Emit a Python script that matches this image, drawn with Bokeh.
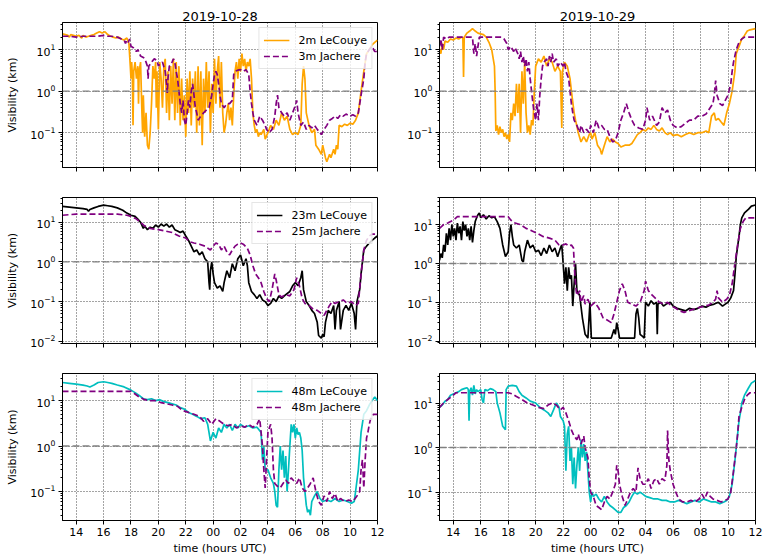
from bokeh.plotting import figure
from bokeh.layouts import gridplot
from bokeh.models import Range1d, FixedTicker, Span, Legend, LegendItem
from bokeh.embed import file_html
from bokeh.resources import INLINE

# ---------------- data (hours since 2019-10-2x 00 UTC; 24 = 00 next day) ----------------
x_ticks = [14, 16, 18, 20, 22, 24, 26, 28, 30, 32, 34, 36]
x_tick_labels = ["14", "16", "18", "20", "22", "00", "02", "04", "06", "08", "10", "12"]
titles = ["2019-10-28", "2019-10-29"]

# 2019-10-28, low level
lc2m_28 = [(13.0,24),(13.2,23),(13.4,22),(13.5,20),(13.6,23),(13.8,22),(14.0,21),(14.2,22),(14.4,19),(14.5,22),(14.7,20),(14.9,21),(15.1,22),(15.3,23),(15.5,25),(15.7,27),(15.9,25),(16.1,27),(16.3,23),(16.5,21),(16.7,20),(16.9,19),(17.1,20),(17.3,18),(17.5,17),(17.7,19),(17.85,14),(17.95,4),(18.0,2),(18.05,5),(18.1,2.5),(18.15,0.15),(18.2,3),(18.3,5),(18.4,2),(18.5,4),(18.55,0.5),(18.6,3),(18.7,5),(18.8,0.3),(18.85,0.1),(18.9,0.8),(19.0,0.08),(19.1,0.3),(19.2,0.05),(19.3,0.04),(19.4,0.1),(19.5,0.5),(19.6,4),(19.7,2),(19.8,5),(19.85,0.4),(19.9,3),(20.0,0.12),(20.1,5),(20.2,2),(20.3,0.4),(20.4,4),(20.5,6),(20.6,0.3),(20.7,3),(20.8,0.2),(20.9,4),(21.0,0.5),(21.1,6),(21.2,0.2),(21.3,5),(21.4,0.3),(21.5,4),(21.6,0.15),(21.7,2),(21.8,0.2),(21.9,0.8),(22.0,0.08),(22.1,2),(22.2,0.3),(22.3,3),(22.4,0.15),(22.5,2),(22.6,0.4),(22.7,3),(22.8,0.1),(22.9,4),(23.0,0.15),(23.1,3),(23.2,0.05),(23.3,2),(23.4,0.3),(23.5,5),(23.6,0.4),(23.7,3),(23.8,0.1),(23.9,1.5),(24.0,0.3),(24.1,6),(24.2,0.5),(24.3,3),(24.4,7),(24.5,0.4),(24.6,5),(24.7,0.3),(24.8,0.1),(24.9,0.15),(25.0,0.3),(25.1,0.5),(25.2,0.2),(25.3,0.4),(25.4,0.15),(25.5,0.8),(25.6,3),(25.7,5),(25.8,2),(25.9,6),(26.0,3),(26.1,8),(26.2,4),(26.3,6),(26.4,3),(26.5,5),(26.6,4),(26.7,6),(26.8,2),(26.9,0.3),(27.0,0.15),(27.1,0.1),(27.2,0.12),(27.3,0.08),(27.4,0.1),(27.5,0.09),(27.7,0.12),(27.8,0.07),(28.0,0.1),(28.2,0.15),(28.4,0.12),(28.6,0.2),(28.8,0.15),(29.0,0.3),(29.2,0.2),(29.4,0.25),(29.6,0.12),(29.8,0.09),(30.0,0.1),(30.2,0.09),(30.4,0.15),(30.5,1.5),(30.6,4),(30.7,2),(30.8,0.3),(31.0,0.15),(31.2,0.1),(31.4,0.12),(31.5,0.05),(31.7,0.04),(31.9,0.03),(32.0,0.05),(32.2,0.025),(32.3,0.02),(32.5,0.03),(32.6,0.025),(32.8,0.04),(32.9,0.03),(33.0,0.05),(33.1,0.04),(33.2,0.15),(33.4,0.14),(33.6,0.16),(33.8,0.15),(34.0,0.17),(34.2,0.16),(34.4,0.2),(34.6,0.3),(34.8,1),(35.0,3),(35.2,8),(35.4,10),(35.6,13),(35.8,15),(36.0,17)]
ja3m_28 = [(13.0,21),(13.5,21),(14.0,20),(14.5,21),(15.0,21),(15.5,21),(16.0,22),(16.3,21),(16.6,21),(17.0,20),(17.3,18),(17.5,17),(17.6,14),(17.7,17),(17.8,15),(17.9,18),(18.0,12),(18.2,11),(18.4,9),(18.5,10),(18.7,7),(18.9,6.5),(19.0,6),(19.1,5),(19.2,4),(19.25,2),(19.3,4),(19.5,5),(19.7,6),(19.9,5.5),(20.0,4),(20.1,4.5),(20.3,5),(20.5,3),(20.6,1.5),(20.65,0.9),(20.7,2),(20.8,4),(21.0,5),(21.1,6),(21.2,5),(21.3,3),(21.4,2),(21.5,1),(21.6,0.5),(21.7,0.3),(21.8,0.6),(21.9,0.2),(22.0,0.15),(22.1,0.3),(22.2,0.6),(22.3,0.4),(22.4,1),(22.5,1.5),(22.6,0.8),(22.7,0.4),(22.8,0.3),(22.9,0.2),(23.1,0.25),(23.3,0.3),(23.5,0.35),(23.7,0.4),(23.9,0.8),(24.0,1.5),(24.1,2.5),(24.2,3),(24.3,2.5),(24.4,1.5),(24.5,0.8),(24.6,0.5),(24.8,0.4),(25.0,0.5),(25.2,0.5),(25.4,0.6),(25.5,2.5),(25.6,3),(25.8,3.2),(26.0,3.3),(26.2,3),(26.4,3.3),(26.6,2.5),(26.7,1),(26.8,0.5),(26.9,0.3),(27.0,0.2),(27.2,0.15),(27.4,0.25),(27.6,0.2),(27.8,0.15),(27.9,0.12),(28.1,0.1),(28.3,0.12),(28.5,0.25),(28.6,0.5),(28.7,0.8),(28.8,0.4),(29.0,0.3),(29.2,0.25),(29.4,0.3),(29.6,0.2),(29.8,0.3),(30.0,0.45),(30.1,0.6),(30.2,0.3),(30.4,0.15),(30.6,0.18),(30.8,0.12),(31.0,0.15),(31.2,0.13),(31.4,0.15),(31.6,0.12),(31.8,0.1),(31.9,0.09),(32.1,0.12),(32.3,0.15),(32.5,0.2),(32.7,0.22),(32.9,0.25),(33.1,0.22),(33.3,0.27),(33.5,0.25),(33.7,0.28),(34.0,0.25),(34.2,0.27),(34.4,0.25),(34.6,0.3),(34.8,0.8),(35.0,2),(35.1,5),(35.2,8),(35.4,10),(35.6,12),(35.8,9),(36.0,9)]

# 2019-10-29, low level
lc2m_29 = [(13.0,10),(13.1,8),(13.2,14),(13.3,10),(13.4,16),(13.6,15),(13.8,18),(14.0,17),(14.2,19),(14.4,18),(14.6,20),(14.7,19),(14.75,2.2),(14.8,20),(15.0,25),(15.2,28),(15.4,32),(15.6,28),(15.8,25),(16.0,24),(16.2,23),(16.4,20),(16.6,15),(16.8,10),(17.0,4),(17.05,1),(17.1,0.11),(17.2,0.15),(17.3,0.09),(17.4,0.14),(17.5,0.1),(17.6,0.12),(17.7,0.08),(17.8,0.1),(17.9,0.07),(18.0,0.09),(18.1,0.06),(18.2,0.3),(18.3,0.2),(18.4,0.5),(18.5,0.25),(18.6,1.5),(18.7,0.3),(18.8,1.5),(18.9,0.1),(19.0,3),(19.1,0.5),(19.2,5),(19.3,0.3),(19.4,0.1),(19.5,0.15),(19.6,0.09),(19.7,0.2),(19.8,0.15),(19.9,1),(20.0,4),(20.2,6),(20.4,5),(20.6,7),(20.8,4),(21.0,6),(21.2,5),(21.4,3),(21.6,4),(21.8,3),(21.9,0.13),(21.95,3),(22.1,5),(22.3,4),(22.5,2),(22.6,1),(22.8,0.3),(22.9,0.2),(23.1,0.1),(23.3,0.06),(23.5,0.08),(23.7,0.06),(23.9,0.09),(24.0,0.1),(24.1,0.07),(24.3,0.1),(24.5,0.05),(24.7,0.04),(24.8,0.03),(25.0,0.05),(25.2,0.08),(25.4,0.06),(25.6,0.07),(25.8,0.06),(26.0,0.055),(26.2,0.045),(26.5,0.05),(26.8,0.05),(27.0,0.055),(27.2,0.07),(27.4,0.09),(27.6,0.1),(27.8,0.12),(28.0,0.11),(28.2,0.13),(28.4,0.12),(28.6,0.15),(28.8,0.12),(29.0,0.11),(29.2,0.13),(29.4,0.1),(29.6,0.09),(29.8,0.1),(30.0,0.085),(30.3,0.09),(30.6,0.08),(30.9,0.09),(31.2,0.1),(31.5,0.09),(31.8,0.1),(32.1,0.1),(32.4,0.11),(32.6,0.1),(32.8,0.25),(33.0,0.3),(33.1,0.2),(33.3,0.22),(33.5,0.18),(33.7,0.15),(33.9,0.3),(34.1,0.5),(34.3,1),(34.5,3),(34.6,8),(34.8,12),(35.0,18),(35.2,22),(35.4,28),(35.6,30),(36.0,32)]
ja3m_29 = [(13.0,12),(13.1,18),(13.2,10),(13.3,20),(13.5,18),(13.7,20),(14.0,20),(14.5,20),(15.0,20),(15.4,20),(15.5,8),(15.6,14),(15.7,7),(15.8,12),(15.9,20),(16.5,20),(17.0,20),(17.5,20),(17.7,18),(17.9,14),(18.0,10),(18.2,12),(18.4,9),(18.5,11),(18.7,8),(18.8,6),(18.9,9),(19.0,5),(19.1,7),(19.2,4),(19.3,6),(19.4,3),(19.5,5),(19.6,2),(19.7,1),(19.8,0.5),(19.9,0.3),(20.0,0.2),(20.1,0.5),(20.2,0.2),(20.3,0.8),(20.4,2),(20.5,4),(20.6,5),(20.8,6),(20.9,4),(21.0,7),(21.1,5),(21.2,8),(21.3,5),(21.5,6),(21.6,4),(21.8,5),(22.0,4),(22.1,5),(22.2,3),(22.4,2),(22.5,1),(22.6,0.5),(22.7,0.3),(22.8,0.2),(23.0,0.15),(23.2,0.1),(23.3,0.15),(23.5,0.1),(23.7,0.12),(23.9,0.1),(24.0,0.15),(24.2,0.1),(24.4,0.2),(24.6,0.13),(24.8,0.15),(25.0,0.12),(25.2,0.12),(25.4,0.08),(25.6,0.06),(25.8,0.065),(26.0,0.1),(26.2,0.2),(26.4,0.3),(26.6,0.5),(26.8,0.3),(27.0,0.2),(27.2,0.15),(27.5,0.13),(27.8,0.12),(28.0,0.2),(28.1,0.4),(28.3,0.2),(28.5,0.25),(28.8,0.15),(29.0,0.18),(29.2,0.4),(29.4,0.3),(29.6,0.35),(29.8,0.2),(30.0,0.15),(30.3,0.13),(30.6,0.14),(30.9,0.17),(31.2,0.2),(31.5,0.2),(31.8,0.25),(32.1,0.25),(32.4,0.28),(32.7,0.4),(32.9,0.5),(33.0,0.8),(33.1,1.8),(33.2,0.8),(33.4,0.5),(33.6,0.45),(33.8,0.6),(34.0,0.8),(34.2,1.5),(34.3,3),(34.4,5),(34.6,10),(34.8,15),(35.0,18),(35.2,20),(36.0,20)]

# 2019-10-28, mid level
lc23m_28 = [(13.0,25),(13.5,24),(14.0,23),(14.5,22),(14.8,21),(14.9,19),(15.0,21),(15.3,23),(15.6,25),(16.0,27),(16.3,26),(16.6,25),(17.0,23),(17.4,20),(17.7,17),(18.0,15),(18.3,14),(18.5,12),(18.7,10),(18.9,7),(19.0,8),(19.2,6.5),(19.4,7.5),(19.6,7),(19.8,8.5),(20.0,7.5),(20.2,9),(20.4,8),(20.6,9),(20.8,7.5),(21.0,8.5),(21.2,6.5),(21.4,6),(21.6,5.5),(21.8,6),(22.0,4.5),(22.2,3.5),(22.4,2.5),(22.6,1.8),(22.8,2),(23.0,1.5),(23.2,1.8),(23.4,1.2),(23.6,1),(23.7,0.3),(23.75,0.2),(23.8,0.6),(23.9,1),(24.0,0.5),(24.1,0.3),(24.3,0.22),(24.5,0.25),(24.7,0.18),(24.8,0.3),(25.0,0.6),(25.2,0.4),(25.4,0.9),(25.6,0.6),(25.8,1.2),(26.0,1.5),(26.2,0.8),(26.4,1.2),(26.5,0.8),(26.6,0.3),(26.8,0.18),(27.0,0.15),(27.2,0.12),(27.4,0.15),(27.6,0.11),(27.8,0.1),(28.0,0.08),(28.2,0.09),(28.4,0.12),(28.6,0.1),(28.8,0.14),(29.0,0.12),(29.3,0.15),(29.6,0.18),(29.8,0.25),(30.0,0.3),(30.2,0.25),(30.4,0.4),(30.5,0.6),(30.6,0.2),(30.8,0.1),(31.0,0.08),(31.2,0.06),(31.4,0.05),(31.6,0.03),(31.7,0.014),(31.9,0.012),(32.0,0.015),(32.1,0.013),(32.2,0.03),(32.4,0.06),(32.6,0.05),(32.8,0.08),(32.9,0.02),(33.0,0.06),(33.2,0.1),(33.3,0.02),(33.5,0.06),(33.7,0.08),(33.9,0.06),(34.1,0.09),(34.3,0.05),(34.4,0.02),(34.5,0.1),(34.7,0.2),(34.8,0.5),(34.9,1),(35.0,2),(35.2,2.5),(35.4,3),(35.6,3.5),(35.8,4),(36.0,4.5)]
ja25m_28 = [(13.0,15),(14.0,16),(15.0,16),(16.0,16),(17.0,16),(17.7,15),(18.0,14),(18.4,12),(18.7,10),(19.0,8),(19.4,7),(20.0,6.5),(20.5,6),(21.0,5.5),(21.5,4.5),(22.0,4),(22.3,3.2),(22.6,3),(23.0,2.8),(23.4,2.5),(23.8,2),(24.0,2.5),(24.2,3),(24.4,2.8),(24.6,2),(24.8,2.5),(25.0,1.8),(25.2,1.5),(25.4,2),(25.6,2.5),(25.8,2.8),(26.0,3),(26.2,2.8),(26.5,2.2),(26.7,1.5),(26.9,0.8),(27.1,0.5),(27.3,0.4),(27.5,0.3),(27.7,0.18),(27.9,0.12),(28.1,0.1),(28.3,0.2),(28.5,0.5),(28.6,0.35),(28.8,0.15),(29.0,0.13),(29.3,0.15),(29.6,0.14),(29.9,0.2),(30.1,0.4),(30.3,0.25),(30.5,0.12),(30.7,0.09),(31.0,0.08),(31.3,0.065),(31.6,0.06),(31.9,0.05),(32.1,0.045),(32.3,0.06),(32.5,0.08),(32.7,0.1),(32.9,0.09),(33.2,0.1),(33.5,0.11),(33.8,0.09),(34.1,0.1),(34.4,0.08),(34.6,0.09),(34.8,0.5),(34.9,1),(35.0,2),(35.2,3.5),(35.4,4.5),(35.6,5),(36.0,5)]

# 2019-10-29, mid level
lc23m_29 = [(13.0,1.2),(13.1,1.8),(13.2,1.4),(13.3,3),(13.4,2),(13.5,6),(13.6,3),(13.7,8),(13.8,4),(13.9,10),(14.0,5),(14.1,8),(14.2,4),(14.3,11),(14.4,6),(14.5,9),(14.6,4),(14.7,12),(14.8,7),(14.9,10),(15.0,5),(15.1,8),(15.2,4),(15.3,9),(15.4,3.5),(15.5,7),(15.6,12),(15.7,15),(15.8,18),(15.9,20),(16.0,15),(16.2,18),(16.4,14),(16.6,17),(16.8,15),(17.0,16),(17.2,12),(17.4,8),(17.6,3),(17.8,1.5),(18.0,2),(18.1,6),(18.2,10),(18.3,5),(18.4,3),(18.6,2.5),(18.8,3),(19.0,1.2),(19.1,1.1),(19.2,2),(19.4,4),(19.6,2.5),(19.8,3),(20.0,2),(20.2,2.2),(20.4,1.6),(20.6,2.5),(20.8,1.8),(21.0,3),(21.2,2),(21.4,2.5),(21.6,1.5),(21.8,2.5),(21.9,3),(22.0,1),(22.1,0.3),(22.2,0.8),(22.3,0.2),(22.4,0.8),(22.5,0.4),(22.6,0.5),(22.7,0.08),(22.8,0.3),(22.9,1),(23.0,0.2),(23.2,0.15),(23.4,0.04),(23.6,0.015),(23.8,0.012),(23.95,0.1),(24.05,0.012),(24.5,0.012),(25.0,0.012),(25.5,0.012),(25.7,0.02),(25.8,0.015),(25.9,0.03),(26.0,0.02),(26.1,0.012),(26.5,0.012),(27.0,0.012),(27.2,0.012),(27.3,0.05),(27.4,0.07),(27.5,0.04),(27.6,0.015),(27.8,0.013),(27.9,0.012),(28.0,0.1),(28.2,0.08),(28.4,0.11),(28.6,0.09),(28.8,0.1),(28.85,0.015),(28.9,0.09),(29.1,0.1),(29.3,0.08),(29.5,0.09),(29.8,0.1),(30.0,0.08),(30.3,0.07),(30.6,0.065),(30.9,0.06),(31.2,0.07),(31.5,0.065),(31.8,0.07),(32.1,0.08),(32.4,0.075),(32.7,0.085),(33.0,0.09),(33.3,0.1),(33.6,0.08),(33.8,0.09),(34.0,0.1),(34.2,0.13),(34.4,0.2),(34.5,0.5),(34.6,1.5),(34.8,5),(34.9,10),(35.0,15),(35.2,20),(35.5,25),(35.7,30),(36.0,32)]
ja25m_29 = [(13.0,8),(13.3,10),(13.6,11),(14.0,13),(14.3,16),(15.0,16),(16.0,16),(17.0,16),(18.0,16),(18.2,13),(18.5,11),(18.9,10),(19.3,8),(19.7,7),(20.1,6),(20.5,5),(21.0,4.5),(21.4,4),(21.7,3),(22.0,3),(22.2,3.2),(22.4,2.8),(22.6,3),(22.75,2.5),(22.85,0.5),(22.95,0.2),(23.0,0.15),(23.2,0.2),(23.3,0.1),(23.5,0.15),(23.6,0.09),(23.8,0.12),(24.0,0.08),(24.3,0.1),(24.6,0.07),(24.9,0.04),(25.2,0.035),(25.5,0.03),(25.7,0.05),(25.9,0.1),(26.1,0.2),(26.3,0.3),(26.5,0.2),(26.7,0.1),(27.0,0.09),(27.3,0.08),(27.6,0.1),(27.9,0.2),(28.0,0.35),(28.2,0.2),(28.5,0.15),(28.8,0.12),(29.0,0.1),(29.3,0.09),(29.6,0.1),(29.9,0.08),(30.2,0.07),(30.5,0.06),(30.8,0.055),(31.1,0.06),(31.4,0.065),(31.7,0.07),(32.0,0.075),(32.3,0.08),(32.6,0.085),(32.9,0.1),(33.1,0.12),(33.2,0.2),(33.3,0.13),(33.6,0.1),(33.9,0.12),(34.1,0.15),(34.3,0.3),(34.5,1),(34.7,3),(34.9,8),(35.1,12),(35.3,15),(36.0,15)]

# 2019-10-28, upper level
lc48m_28 = [(13.0,25),(13.5,24),(14.0,23),(14.5,22),(14.8,21),(15.0,20),(15.3,22),(15.6,25),(16.0,26),(16.3,25),(16.6,24),(17.0,22),(17.5,20),(18.0,17),(18.3,15),(18.6,13),(18.9,11),(19.2,10.5),(19.5,11),(19.8,10),(20.1,10.5),(20.4,9.5),(20.7,9),(21.0,8.5),(21.3,8),(21.6,7),(21.9,6.5),(22.2,5.5),(22.5,5),(22.8,4.5),(23.1,4),(23.4,4.2),(23.6,3),(23.8,1.3),(24.0,2),(24.2,1.5),(24.4,2.5),(24.6,2),(24.8,3),(25.0,2.5),(25.2,3),(25.4,2.2),(25.6,3),(25.8,2.5),(26.0,3),(26.3,2.6),(26.6,2.8),(26.9,2.5),(27.2,2.6),(27.5,2),(27.6,0.5),(27.7,1),(27.8,0.3),(28.0,0.3),(28.2,0.2),(28.4,0.15),(28.5,0.1),(28.6,0.05),(28.7,0.045),(28.8,0.3),(28.9,1),(29.0,0.3),(29.1,0.8),(29.2,0.2),(29.3,0.6),(29.4,0.1),(29.5,0.3),(29.6,1),(29.7,3),(29.8,2),(29.9,3),(30.0,1.5),(30.1,2.5),(30.2,1.8),(30.3,2),(30.4,1.5),(30.5,0.8),(30.6,0.2),(30.7,0.1),(30.8,0.05),(30.9,0.035),(31.0,0.04),(31.1,0.03),(31.2,0.06),(31.4,0.08),(31.6,0.1),(31.8,0.07),(32.0,0.06),(32.3,0.065),(32.6,0.06),(32.9,0.07),(33.2,0.06),(33.5,0.065),(33.8,0.06),(34.1,0.055),(34.3,0.06),(34.4,0.1),(34.6,0.3),(34.8,2),(35.0,5),(35.2,6),(35.4,8),(35.6,10),(35.8,12),(36.0,10)]
ja48m_28 = [(13.0,16),(14.0,16),(15.0,16),(16.0,16),(17.0,16),(18.0,16),(18.3,14),(18.6,12),(19.0,10.5),(19.4,10),(19.8,10),(20.2,9),(20.6,8.5),(21.0,8),(21.4,7.5),(21.8,6),(22.2,5.5),(22.6,5),(23.0,4.5),(23.3,3.5),(23.6,4),(23.9,3),(24.2,4),(24.5,3.5),(24.8,3),(25.1,2.8),(25.4,3),(25.7,2.5),(26.0,2.8),(26.3,2.6),(26.6,3),(26.9,2.6),(27.2,3),(27.4,4),(27.5,2),(27.6,1),(27.7,0.3),(27.8,0.12),(27.9,0.5),(28.0,2),(28.1,2.5),(28.2,3),(28.3,1.5),(28.4,0.3),(28.5,0.15),(28.7,0.13),(28.9,0.12),(29.1,0.15),(29.3,0.18),(29.5,0.15),(29.7,0.2),(29.9,0.17),(30.1,0.15),(30.3,0.2),(30.5,0.12),(30.7,0.1),(30.9,0.12),(31.1,0.15),(31.3,0.2),(31.5,0.1),(31.7,0.06),(31.9,0.05),(32.1,0.08),(32.3,0.06),(32.5,0.1),(32.7,0.07),(32.9,0.09),(33.1,0.06),(33.3,0.07),(33.6,0.06),(33.9,0.065),(34.2,0.06),(34.5,0.08),(34.7,0.1),(34.8,0.3),(34.9,0.5),(35.0,0.12),(35.1,0.5),(35.2,1.5),(35.3,2),(35.4,3),(35.5,4),(35.7,5),(36.0,5)]

# 2019-10-29, upper level
lc48m_29 = [(13.0,8),(13.2,9),(13.4,11),(13.6,12),(13.8,15),(14.0,16),(14.2,17),(14.4,18),(14.6,20),(14.8,21),(15.0,22),(15.1,20),(15.15,4),(15.2,18),(15.3,22),(15.4,15),(15.5,25),(15.6,16),(15.7,20),(15.8,18),(16.0,20),(16.1,12),(16.2,10),(16.3,20),(16.5,19),(16.7,21),(16.9,20),(17.1,18),(17.2,10),(17.4,6),(17.6,3),(17.8,2.5),(17.85,20),(18.0,24),(18.3,25),(18.6,24),(18.8,18),(19.0,15),(19.3,13),(19.6,11),(20.0,10),(20.3,8),(20.6,7),(20.9,6),(21.1,5),(21.3,7),(21.5,10),(21.7,8),(21.8,5),(22.0,4),(22.1,3),(22.2,0.3),(22.3,2),(22.4,3),(22.5,0.5),(22.6,1),(22.7,0.15),(22.8,0.6),(22.9,0.12),(23.0,0.4),(23.1,1),(23.2,0.3),(23.3,1.5),(23.4,0.6),(23.5,1.2),(23.6,0.5),(23.7,0.8),(23.8,0.3),(23.9,0.1),(24.0,0.06),(24.1,0.1),(24.2,0.08),(24.4,0.09),(24.6,0.07),(24.8,0.06),(25.0,0.08),(25.2,0.06),(25.4,0.05),(25.6,0.045),(25.8,0.04),(26.0,0.035),(26.2,0.035),(26.4,0.045),(26.6,0.05),(26.8,0.06),(27.0,0.08),(27.2,0.1),(27.4,0.09),(27.6,0.1),(27.8,0.09),(28.0,0.08),(28.3,0.075),(28.6,0.07),(28.9,0.07),(29.2,0.065),(29.5,0.065),(29.8,0.06),(30.1,0.06),(30.4,0.065),(30.7,0.06),(31.0,0.055),(31.3,0.06),(31.6,0.065),(31.9,0.06),(32.2,0.07),(32.5,0.065),(32.8,0.06),(33.1,0.06),(33.4,0.055),(33.7,0.06),(33.9,0.065),(34.1,0.08),(34.3,0.15),(34.5,0.5),(34.6,1),(34.7,2),(34.8,4),(34.9,6),(35.0,10),(35.2,15),(35.5,22),(35.7,28),(36.0,32)]
ja48m_29 = [(13.0,8),(13.3,10),(13.6,12),(14.0,15),(14.2,17),(15.0,17),(16.0,17),(17.0,17),(18.0,17),(18.3,16),(18.6,14),(19.0,12),(19.4,10),(19.8,9),(20.2,8),(20.6,7.5),(20.9,9),(21.2,10),(21.5,9),(21.8,7),(22.0,8),(22.2,6),(22.4,4),(22.6,2.5),(22.8,1.8),(23.0,1.5),(23.1,2),(23.3,1.2),(23.5,1.8),(23.6,1),(23.8,0.6),(23.9,0.2),(24.0,0.1),(24.2,0.08),(24.4,0.05),(24.6,0.045),(24.8,0.04),(25.0,0.06),(25.2,0.08),(25.4,0.07),(25.6,0.1),(25.8,0.15),(25.9,0.4),(26.0,0.3),(26.1,0.15),(26.3,0.08),(26.5,0.05),(26.7,0.07),(26.9,0.1),(27.1,0.12),(27.3,0.1),(27.45,0.35),(27.6,0.2),(27.8,0.15),(28.0,0.15),(28.2,0.2),(28.4,0.12),(28.6,0.18),(28.8,0.2),(29.0,0.15),(29.2,0.2),(29.4,0.18),(29.55,0.4),(29.6,2.4),(29.7,0.5),(29.8,0.3),(30.0,0.15),(30.2,0.1),(30.4,0.07),(30.7,0.06),(31.0,0.06),(31.3,0.065),(31.6,0.06),(31.9,0.07),(32.1,0.09),(32.3,0.07),(32.5,0.1),(32.7,0.08),(32.9,0.07),(33.2,0.065),(33.5,0.06),(33.8,0.065),(34.0,0.07),(34.2,0.1),(34.4,0.3),(34.6,1),(34.7,2),(34.8,5),(35.0,8),(35.2,12),(35.4,15),(35.6,17),(36.0,17)]

series_labels = [("2m LeCouye", "3m Jachere"), ("23m LeCouye", "25m Jachere"), ("48m LeCouye", "48m Jachere")]
lc_colors = ["#FFA500", "#000000", "#00BFBF"]
ja_color = "#800080"
y_ranges = [[(0.0145, 45), (0.0145, 45)], [(0.0088, 42), (0.0087, 50)], [(0.023, 39.5), (0.023, 46)]]
data = [[(lc2m_28, ja3m_28), (lc2m_29, ja3m_29)],
        [(lc23m_28, ja25m_28), (lc23m_29, ja25m_29)],
        [(lc48m_28, ja48m_28), (lc48m_29, ja48m_29)]]

FONT = "DejaVu Sans"
col_w = [387, 376]
row_h = [177, 176, 204]
borders_lr = [(62, 10), (52, 8)]
borders_tb = [(22, 10), (20, 10), (20, 37)]

figs = []
for r in range(3):
    row_figs = []
    for c in range(2):
        p = figure(width=col_w[c], height=row_h[r], x_range=Range1d(13, 36),
                   y_range=Range1d(*y_ranges[r][c]), y_axis_type="log",
                   output_backend="svg", toolbar_location=None,
                   min_border_left=borders_lr[c][0], min_border_right=borders_lr[c][1],
                   min_border_top=borders_tb[r][0], min_border_bottom=borders_tb[r][1])
        p.background_fill_color = "white"
        p.border_fill_color = "white"
        p.outline_line_color = "black"
        p.outline_line_alpha = 1
        p.outline_line_width = 1
        if r == 0:
            p.title.text = titles[c]
            p.title.align = "center"
            p.title.text_font = FONT
            p.title.text_font_size = "13px"
            p.title.text_font_style = "normal"
            p.title.text_color = "black"
            p.title.standoff = 4

        p.xaxis.ticker = FixedTicker(ticks=x_ticks, minor_ticks=[])
        if r < 2:
            p.xaxis.major_label_overrides = {t: "" for t in x_ticks}
        else:
            p.xaxis.major_label_overrides = {t: l for t, l in zip(x_ticks, x_tick_labels)}
        for ax in [p.xaxis[0], p.yaxis[0]]:
            ax.axis_line_color = "black"
            ax.major_tick_line_color = "black"
            ax.minor_tick_line_color = "black"
            ax.major_tick_out = 4
            ax.major_tick_in = 0
            ax.minor_tick_out = 2
            ax.minor_tick_in = 0
            ax.major_label_text_font = FONT
            ax.major_label_text_font_size = "11px"
            ax.major_label_text_color = "black"
            ax.axis_label_text_font = FONT
            ax.axis_label_text_font_size = "11px"
            ax.axis_label_text_font_style = "normal"
            ax.axis_label_text_color = "black"
            ax.major_label_standoff = 3
            ax.axis_label_standoff = 3
        if r == 2:
            p.xaxis.axis_label = "time (hours UTC)"
        if c == 0:
            p.yaxis.axis_label = "Visibility (km)"
            p.yaxis.axis_label_standoff = 8

        for g in [p.xgrid[0], p.ygrid[0]]:
            g.grid_line_color = "black"
            g.grid_line_dash = "1 2"
            g.grid_line_width = 0.8
            g.grid_line_alpha = 0.9

        lc, ja = data[r][c]
        lt, lv = zip(*lc)
        jt, jv = zip(*ja)
        r1 = p.line(list(lt), list(lv), line_color=lc_colors[r], line_width=1.7)
        r2 = p.line(list(jt), list(jv), line_color=ja_color, line_width=1.7, line_dash="6 3")

        p.add_layout(Span(location=1, dimension="width", line_color="#808080",
                          line_dash="7 3", line_width=1.4))

        if c == 0:
            leg = Legend(items=[LegendItem(label=series_labels[r][0], renderers=[r1]),
                                LegendItem(label=series_labels[r][1], renderers=[r2])],
                         location="top_right")
            leg.label_text_font = FONT
            leg.label_text_font_size = "11px"
            leg.label_text_color = "black"
            leg.padding = 4
            leg.spacing = 0
            leg.margin = 5
            leg.glyph_width = 26
            leg.glyph_height = 16
            leg.label_height = 16
            leg.label_standoff = 9
            leg.border_line_color = "#cccccc"
            leg.border_line_width = 1
            leg.background_fill_alpha = 0.8
            p.add_layout(leg)
        row_figs.append(p)
    figs.append(row_figs)

grid = gridplot(figs, toolbar_location=None)
open("out.html", "w").write(file_html(grid, INLINE))
